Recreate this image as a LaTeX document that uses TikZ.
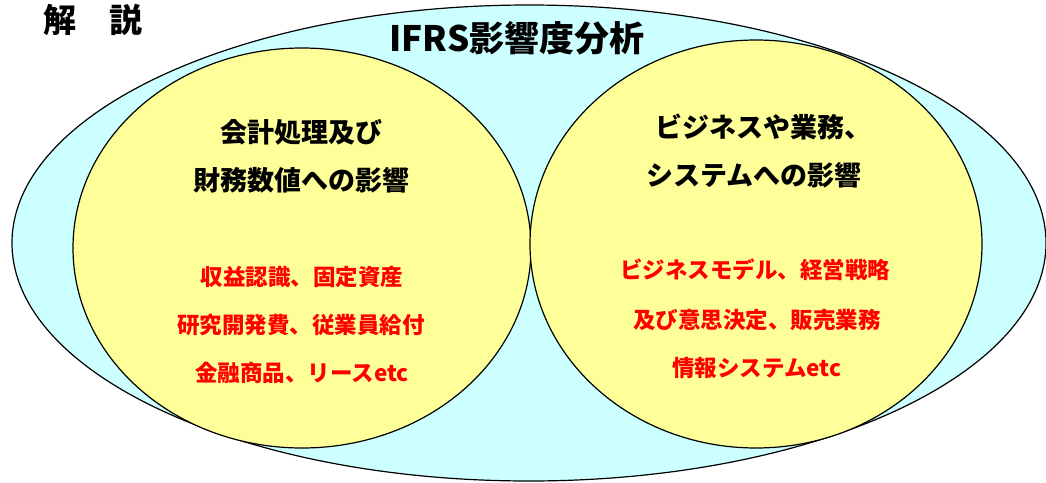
\documentclass[tikz,border=0pt]{standalone}
\usepackage{fontspec}
\newfontfamily\jp{Noto Sans CJK JP}
\definecolor{outerfill}{HTML}{CCFFFF}
\definecolor{innerfill}{HTML}{FFFF99}
\definecolor{redtext}{HTML}{FF0000}
\tikzset{
  outerell/.style={draw=black, line width=1.2pt, fill=outerfill},
  innerell/.style={draw=black, line width=1.2pt, fill=innerfill},
  heading/.style={font=\jp\bfseries\fontsize{27}{31}\selectfont, text=black, inner sep=0pt},
  item/.style={font=\jp\bfseries\fontsize{22.5}{27}\selectfont, text=redtext, inner sep=0pt},
  bigtitle/.style={font=\jp\bfseries\fontsize{35}{39}\selectfont, text=black, inner sep=0pt},
  cornertitle/.style={font=\jp\bfseries\fontsize{33}{37}\selectfont, text=black, inner sep=0pt}
}
\begin{document}
\begin{tikzpicture}[x=1pt,y=-1pt]
\useasboundingbox (0,0) rectangle (1046,482);
\draw[outerell] (529,243) ellipse [x radius=517, y radius=238];
\draw[innerell] (302,248) ellipse [x radius=229, y radius=200];
\draw[innerell] (756,244) ellipse [x radius=226, y radius=204];
\node[cornertitle] (kaisetsu) at (93,20) {解　説};
\node[bigtitle] (title) at (517,38) {IFRS影響度分析};
\node[heading] (l1) at (301,132) {会計処理及び};
\node[heading] (l2) at (301,180) {財務数値への影響};
\node[heading] (r1) at (763,127) {ビジネスや業務、};
\node[heading] (r2) at (754,175) {システムへの影響};
\node[item] (li1) at (302,277) {収益認識、固定資産};
\node[item] (li2) at (301,325) {研究開発費、従業員給付};
\node[item] (li3) at (302,373) {金融商品、リースetc};
\node[item] (ri1) at (755,270) {ビジネスモデル、経営戦略};
\node[item] (ri2) at (757,320) {及び意思決定、販売業務};
\node[item] (ri3) at (757,368) {情報システムetc};
\end{tikzpicture}
\end{document}
